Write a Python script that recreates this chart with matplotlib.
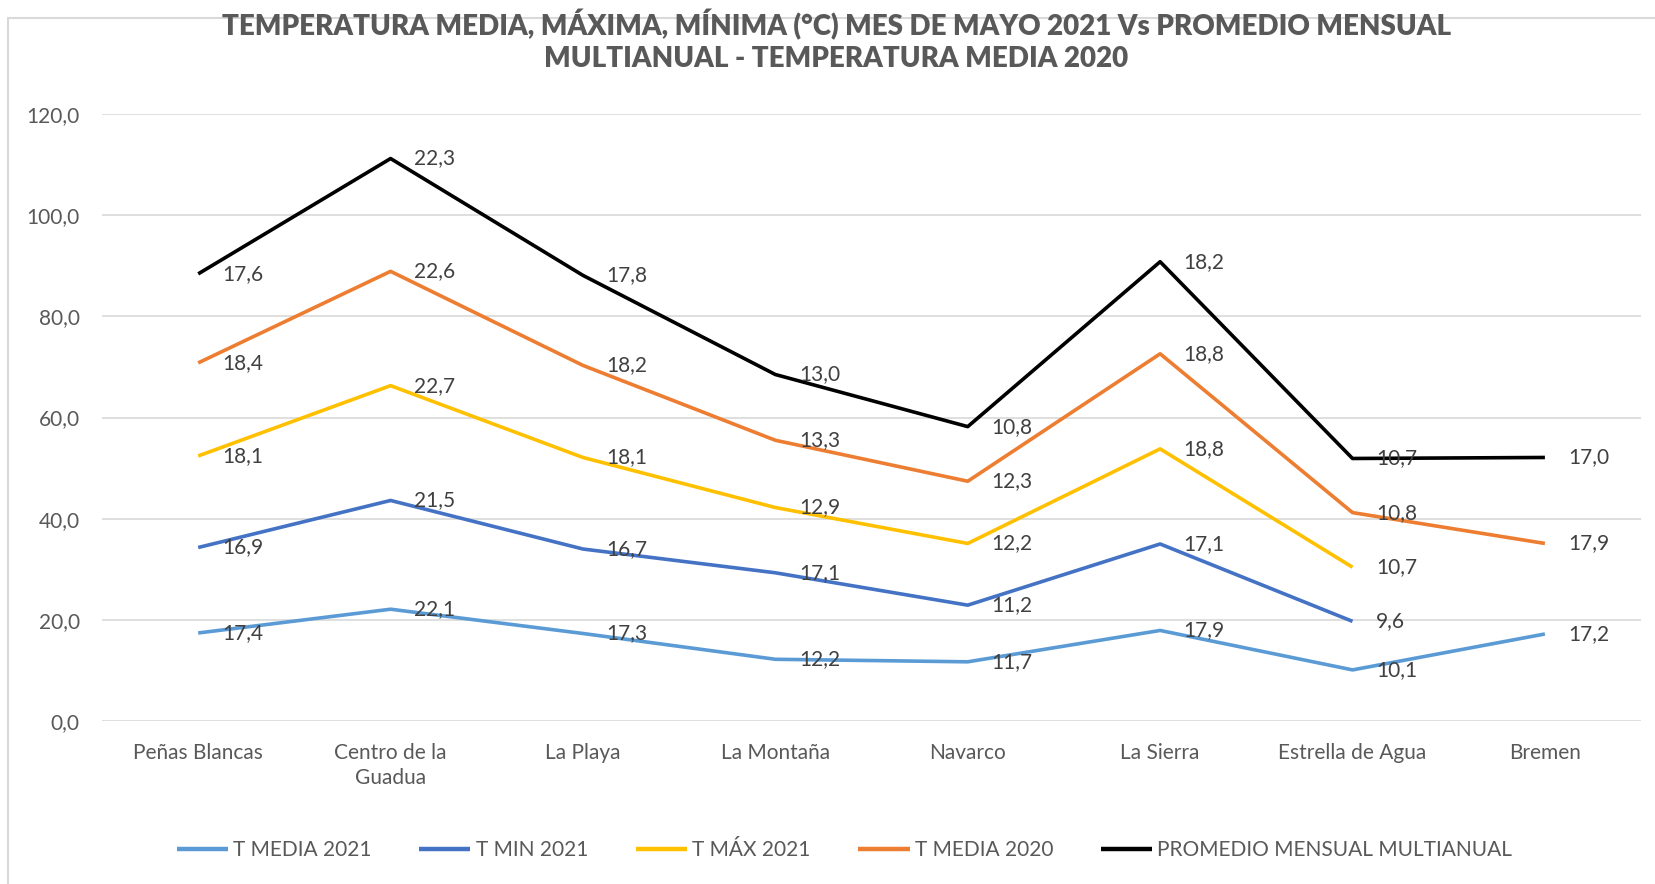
import numpy as np
import matplotlib
matplotlib.use("Agg")
import matplotlib.pyplot as plt
from matplotlib.patches import Rectangle

# Datos (series apiladas, como en el gráfico de Excel)
estaciones = ["Peñas Blancas", "Centro de la\nGuadua", "La Playa", "La Montaña",
              "Navarco", "La Sierra", "Estrella de Agua", "Bremen"]
t_media_2021 = [17.4, 22.1, 17.3, 12.2, 11.7, 17.9, 10.1, 17.2]
t_min_2021 = [16.9, 21.5, 16.7, 17.1, 11.2, 17.1, 9.6, np.nan]
t_max_2021 = [18.1, 22.7, 18.1, 12.9, 12.2, 18.8, 10.7, np.nan]
t_media_2020 = [18.4, 22.6, 18.2, 13.3, 12.3, 18.8, 10.8, 17.9]
promedio_multianual = [17.6, 22.3, 17.8, 13.0, 10.8, 18.2, 10.7, 17.0]

series = [
    ("T MEDIA 2021", t_media_2021, "#5B9BD5"),
    ("T MIN 2021", t_min_2021, "#4472C4"),
    ("T MÁX 2021", t_max_2021, "#FFC000"),
    ("T MEDIA 2020", t_media_2020, "#ED7D31"),
    ("PROMEDIO MENSUAL MULTIANUAL", promedio_multianual, "#000000"),
]

plt.rcParams['font.family'] = ['Lato', 'DejaVu Sans']
txt_color = "#595959"

fig = plt.figure(figsize=(16.56, 8.84), dpi=100)
ax = fig.add_axes([0.0616, 0.1844, 0.9294, 0.6866])

# borde del área del gráfico
fig.patches.append(Rectangle((8 / 1656, -0.01), 1.02, 1.0 - 0.01, transform=fig.transFigure,
                             fill=False, edgecolor="#D9D9D9", linewidth=1.5))

x = np.arange(len(estaciones))
acum = np.zeros(len(estaciones))
for nombre, vals, color in series:
    v = np.array(vals, dtype=float)
    acum = acum + np.nan_to_num(v)
    y = np.where(np.isnan(v), np.nan, acum)
    ax.plot(x, y, color=color, linewidth=2.6, label=nombre, solid_capstyle="butt")
    for xi, yi, vi in zip(x, y, v):
        if np.isnan(vi):
            continue
        ax.annotate(f"{vi:.1f}".replace(".", ","), (xi, yi), xytext=(17, 0),
                    textcoords="offset points", ha="left", va="center",
                    fontsize=15, color="#404040")

ax.set_xlim(-0.5, len(estaciones) - 0.5)
ax.set_ylim(0, 120)
ax.set_yticks(np.arange(0, 121, 20))
ax.set_yticklabels([f"{t:.1f}".replace(".", ",") for t in np.arange(0, 121, 20)])
ax.set_xticks(x)
ax.set_xticklabels(estaciones, va="top", linespacing=1.3)
ax.tick_params(axis="both", length=0, labelsize=15, labelcolor=txt_color)
ax.tick_params(axis="x", pad=16)
ax.tick_params(axis="y", pad=16)
ax.grid(axis="y", color="#D9D9D9", linewidth=1.2)
ax.set_axisbelow(True)
for s in ax.spines.values():
    s.set_visible(False)

fig.suptitle("TEMPERATURA MEDIA, MÁXIMA, MÍNIMA (°C) MES DE MAYO 2021 Vs PROMEDIO MENSUAL\n"
             "MULTIANUAL - TEMPERATURA MEDIA 2020",
             x=0.505, y=0.99, fontsize=20, fontweight="heavy", color=txt_color, linespacing=1.3)

leg = fig.legend(loc="center", bbox_to_anchor=(0.51, 0.038), ncol=5, frameon=False,
                 fontsize=15, handlelength=2.45, columnspacing=2.3, labelcolor=txt_color,
                 handletextpad=0.25)
for ln in leg.get_lines():
    ln.set_linewidth(3.2)

fig.savefig("out.png", dpi=100)
